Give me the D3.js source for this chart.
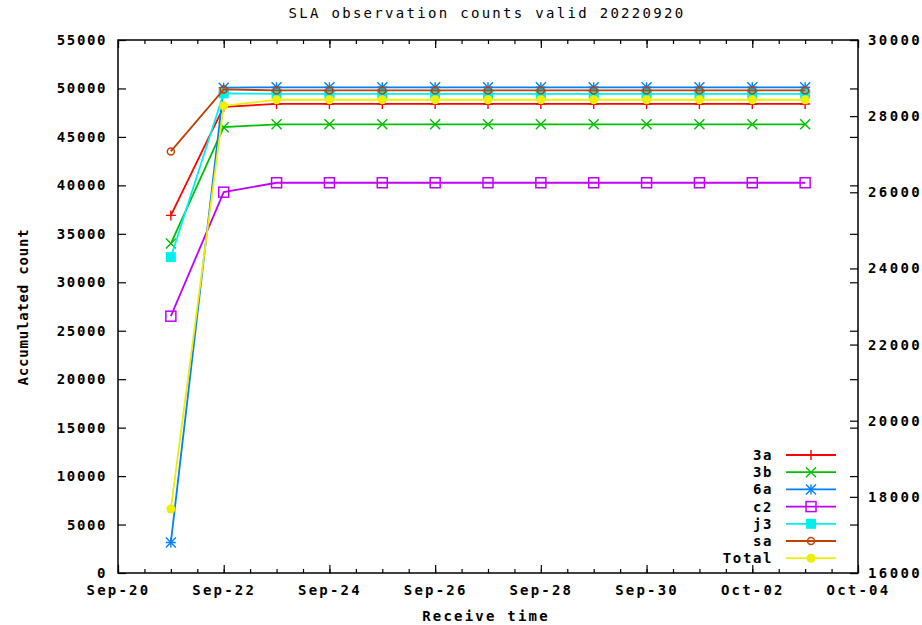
<!DOCTYPE html>
<html>
<head>
  <meta charset="UTF-8">
  <title>SLA observation counts</title>
  <script src="https://d3js.org/d3.v7.min.js"></script>
  <style>
    body { margin: 0; background: #fff; }
    svg text {
      font-family: "DejaVu Sans Mono", "Liberation Mono", monospace;
      font-weight: bold;
      font-size: 14px;
      letter-spacing: 1.6px;
      fill: #000;
    }
    .axis path { display: none; }
    .axis line { stroke: #000; stroke-width: 1.2px; }
    .xaxis text { letter-spacing: 2.2px; }
    .y2axis text { letter-spacing: 2.4px; }
    .series { fill: none; stroke-width: 1.8px; }
  </style>
</head>
<body>
  <div id="chart"></div>
  <script>
    // 数据
    const dates = ["2022-09-21", "2022-09-22", "2022-09-23", "2022-09-24", "2022-09-25",
                   "2022-09-26", "2022-09-27", "2022-09-28", "2022-09-29", "2022-09-30",
                   "2022-10-01", "2022-10-02", "2022-10-03"];
    const s3a   = [36900, 48100, 48400, 48400, 48400, 48400, 48400, 48400, 48400, 48400, 48400, 48400, 48400];
    const s3b   = [34000, 46000, 46300, 46300, 46300, 46300, 46300, 46300, 46300, 46300, 46300, 46300, 46300];
    const s6a   = [3150, 50080, 50120, 50120, 50120, 50120, 50120, 50120, 50120, 50120, 50120, 50120, 50120];
    const sc2   = [26500, 39300, 40270, 40270, 40270, 40270, 40270, 40270, 40270, 40270, 40270, 40270, 40270];
    const sj3   = [32600, 49500, 49450, 49450, 49450, 49450, 49450, 49450, 49450, 49450, 49450, 49450, 49450];
    const ssa   = [43500, 49900, 49800, 49800, 49800, 49800, 49800, 49800, 49800, 49800, 49800, 49800, 49800];
    const total = [176800, 282700, 284300, 284300, 284300, 284300, 284300, 284300, 284300, 284300, 284300, 284300, 284300];

    const seriesNames = ["3a", "3b", "6a", "c2", "j3", "sa", "Total"];
    const seriesData = [s3a, s3b, s6a, sc2, sj3, ssa, total];
    const colors = ["#ff0000", "#00c000", "#0080ff", "#c000ff", "#00eeee", "#c04000", "#eeee00"];
    const markers = ["plus", "cross", "star", "box", "fbox", "circle", "fcircle"];
    const onY2 = [false, false, false, false, false, false, true];

    const yTicks = [0, 5000, 10000, 15000, 20000, 25000, 30000, 35000, 40000, 45000, 50000, 55000];
    const y2Ticks = [160000, 180000, 200000, 220000, 240000, 260000, 280000, 300000];

    const W = 922, H = 625;
    const plot = {left: 118, right: 858, top: 40, bottom: 573};

    const svg = d3.select("#chart").append("svg")
        .attr("width", W)
        .attr("height", H);

    const parse = d3.utcParse("%Y-%m-%d");
    const x = d3.scaleUtc()
        .domain([parse("2022-09-20"), parse("2022-10-04")])
        .range([plot.left, plot.right]);
    const y = d3.scaleLinear().domain([0, 55000]).range([plot.bottom, plot.top]);
    const y2 = d3.scaleLinear().domain([160000, 300000]).range([plot.bottom, plot.top]);

    // 坐标轴 (刻度向内)
    const fmt = d3.utcFormat("%b-%d");
    const [x0, x1] = x.domain();
    const majorX = d3.utcDay.range(x0, d3.utcHour.offset(x1, 1), 2);
    const minorX = d3.utcHour.range(x0, d3.utcHour.offset(x1, 1), 12);

    svg.append("g").attr("class", "axis")
        .attr("transform", `translate(0,${plot.bottom})`)
        .call(d3.axisBottom(x).tickValues(minorX).tickSize(-4).tickFormat(""));
    svg.append("g").attr("class", "axis xaxis")
        .attr("transform", `translate(0,${plot.bottom})`)
        .call(d3.axisBottom(x).tickValues(majorX).tickSize(-8).tickPadding(12).tickFormat(fmt));
    svg.append("g").attr("class", "axis")
        .attr("transform", `translate(0,${plot.top})`)
        .call(d3.axisTop(x).tickValues(minorX).tickSize(-4).tickFormat(""));
    svg.append("g").attr("class", "axis")
        .attr("transform", `translate(0,${plot.top})`)
        .call(d3.axisTop(x).tickValues(majorX).tickSize(-8).tickFormat(""));

    svg.append("g").attr("class", "axis")
        .attr("transform", `translate(${plot.left},0)`)
        .call(d3.axisLeft(y).tickValues(yTicks).tickSize(-8).tickPadding(11).tickFormat(d3.format("d")));
    svg.append("g").attr("class", "axis")
        .attr("transform", `translate(${plot.right},0)`)
        .call(d3.axisRight(y).tickValues(yTicks).tickSize(-8).tickFormat(""));
    svg.append("g").attr("class", "axis y2axis")
        .attr("transform", `translate(${plot.right},0)`)
        .call(d3.axisRight(y2).tickValues(y2Ticks).tickSize(-8).tickPadding(10).tickFormat(d3.format("d")));

    // 边框
    svg.append("rect")
        .attr("x", plot.left).attr("y", plot.top)
        .attr("width", plot.right - plot.left).attr("height", plot.bottom - plot.top)
        .attr("fill", "none").attr("stroke", "#000").attr("stroke-width", 1.5);

    // 标题与轴标题
    svg.append("text").attr("x", 487).attr("y", 18)
        .attr("text-anchor", "middle")
        .style("font-weight", "normal").style("letter-spacing", "2.3px")
        .text("SLA observation counts valid 20220920");
    svg.append("text").attr("x", 486).attr("y", 621)
        .attr("text-anchor", "middle")
        .style("letter-spacing", "2.2px")
        .text("Receive time");
    svg.append("text")
        .attr("transform", "translate(28,307) rotate(-90)")
        .attr("text-anchor", "middle")
        .style("letter-spacing", "0.8px")
        .text("Accumulated count");

    function drawMarker(g, type, color) {
      const s = 5;
      if (type === "plus" || type === "star") {
        g.append("path").attr("d", `M${-s},0H${s}M0,${-s}V${s}`).attr("stroke", color).attr("stroke-width", 1.4);
      }
      if (type === "cross" || type === "star") {
        g.append("path").attr("d", `M${-s},${-s}L${s},${s}M${-s},${s}L${s},${-s}`).attr("stroke", color).attr("stroke-width", 1.4);
      }
      if (type === "box") {
        g.append("rect").attr("x", -5).attr("y", -5).attr("width", 10).attr("height", 10)
          .attr("fill", "none").attr("stroke", color).attr("stroke-width", 1.5);
      }
      if (type === "fbox") {
        g.append("rect").attr("x", -5).attr("y", -5).attr("width", 10).attr("height", 10).attr("fill", color);
      }
      if (type === "circle") {
        g.append("circle").attr("r", 3.5).attr("fill", "none").attr("stroke", color).attr("stroke-width", 1.5);
      }
      if (type === "fcircle") {
        g.append("circle").attr("r", 4.5).attr("fill", color);
      }
    }

    // 数据系列
    seriesData.forEach((vals, i) => {
      const ys = onY2[i] ? y2 : y;
      const pts = vals.map((v, j) => [x(parse(dates[j])), ys(v)]);
      svg.append("path")
          .attr("class", "series")
          .attr("stroke", colors[i])
          .attr("d", d3.line()(pts));
      pts.forEach(p => {
        const g = svg.append("g").attr("transform", `translate(${p[0]},${p[1]})`);
        drawMarker(g, markers[i], colors[i]);
      });
    });

    // 图例
    seriesNames.forEach((name, i) => {
      const ly = 455 + i * 17.2;
      svg.append("text").attr("x", 773).attr("y", ly).attr("dy", "0.35em")
          .attr("text-anchor", "end").text(name);
      svg.append("line").attr("x1", 786).attr("x2", 836).attr("y1", ly).attr("y2", ly)
          .attr("stroke", colors[i]).attr("stroke-width", 1.8);
      const g = svg.append("g").attr("transform", `translate(811,${ly})`);
      drawMarker(g, markers[i], colors[i]);
    });
  </script>
</body>
</html>
